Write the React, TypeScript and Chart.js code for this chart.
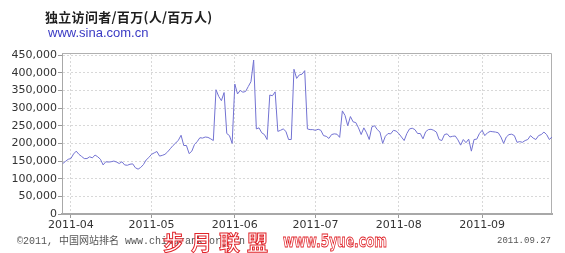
import { useEffect, useRef } from 'react';
import { Chart, registerables } from 'chart.js';

Chart.register(...registerables);

const titleText = '独立访问者/百万(人/百万人)';
const sourceText = 'www.sina.com.cn';
const footerLeftText = '©2011, 中国网站排名 www.chinarank.org.cn';
const footerRightText = '2011.09.27';
const watermarkCn = '步月联盟';
const watermarkUrl = 'www.5yue.com';

const firstDate = '2011-03-29';
const lastDate = '2011-09-27';
const monthTickDates = ['2011-04-01', '2011-05-01', '2011-06-01', '2011-07-01', '2011-08-01', '2011-09-01'];
const monthTickLabels = ['2011-04', '2011-05', '2011-06', '2011-07', '2011-08', '2011-09'];
const yTickValues = [0, 50000, 100000, 150000, 200000, 250000, 300000, 350000, 400000, 450000];

// daily unique visitors, from 2011-03-29
const visitorsMar = [143000, 149000, 155000];
const visitorsApr = [
  157000, 170000, 178000, 169000, 163000, 157000, 157000, 162000, 159000, 167000,
  162000, 155000, 139000, 148000, 147000, 148000, 150000, 147000, 143000, 148000,
  139000, 138000, 141000, 142000, 131000, 127000, 132000, 140000, 153000, 160000,
];
const visitorsMay = [
  169000, 173000, 177000, 164000, 166000, 169000, 176000, 185000, 194000, 201000,
  209000, 223000, 194000, 194000, 171000, 178000, 197000, 205000, 216000, 215000,
  218000, 217000, 213000, 208000, 352000, 333000, 321000, 344000, 228000, 222000,
  200000,
];
const visitorsJun = [
  368000, 340000, 350000, 345000, 347000, 361000, 375000, 436000, 241000, 244000,
  230000, 225000, 211000, 337000, 335000, 346000, 234000, 237000, 241000, 234000,
  211000, 211000, 410000, 384000, 394000, 396000, 406000, 241000, 239000, 239000,
];
const visitorsJul = [
  237000, 240000, 237000, 222000, 220000, 214000, 225000, 227000, 226000, 217000,
  292000, 279000, 250000, 276000, 261000, 259000, 244000, 225000, 244000, 230000,
  211000, 247000, 250000, 239000, 232000, 200000, 220000, 228000, 227000, 237000,
  235000,
];
const visitorsAug = [
  228000, 218000, 208000, 228000, 241000, 243000, 239000, 228000, 228000, 213000,
  233000, 239000, 240000, 237000, 232000, 211000, 208000, 225000, 227000, 218000,
  220000, 221000, 210000, 195000, 211000, 202000, 212000, 178000, 211000, 212000,
  228000,
];
const visitorsSep = [
  237000, 222000, 230000, 234000, 233000, 232000, 230000, 218000, 200000, 218000,
  225000, 226000, 222000, 203000, 205000, 203000, 208000, 211000, 222000, 215000,
  211000, 222000, 225000, 232000, 225000, 211000, 218000,
];

const dayNum = (s: string) => {
  const [y, m, d] = s.split('-').map(Number);
  return Math.round(Date.UTC(y, m - 1, d) / 86400000);
};

export default function App() {
  const ref = useRef<HTMLCanvasElement | null>(null);

  useEffect(() => {
    document.body.style.margin = '0';
    const canvas = ref.current;
    if (!canvas) return;

    const visitors = [
      ...visitorsMar, ...visitorsApr, ...visitorsMay, ...visitorsJun,
      ...visitorsJul, ...visitorsAug, ...visitorsSep,
    ];
    const start = dayNum(firstDate);
    const points = visitors.map((v, i) => ({ x: start + i, y: v }));
    const tickDays = monthTickDates.map(dayNum);

    const framePlugin = {
      id: 'frame',
      beforeDatasetsDraw(chart: any) {
        const { ctx, chartArea: a } = chart;
        ctx.save();
        ctx.strokeStyle = '#b0b0b0';
        ctx.lineWidth = 1;
        ctx.beginPath();
        ctx.moveTo(a.left, a.top + 0.5);
        ctx.lineTo(a.right - 0.5, a.top + 0.5);
        ctx.lineTo(a.right - 0.5, a.bottom);
        ctx.stroke();
        ctx.restore();
      },
    };

    const textPlugin = {
      id: 'texts',
      afterDraw(chart: any) {
        const ctx = chart.ctx as CanvasRenderingContext2D;
        ctx.save();
        ctx.textBaseline = 'middle';
        ctx.textAlign = 'left';
        // title
        ctx.fillStyle = '#1e1e1e';
        ctx.font = 'bold 13px "Noto Sans CJK SC"';
        (ctx as any).letterSpacing = '0.3px';
        ctx.fillText(titleText, 45, 17);
        (ctx as any).letterSpacing = '0px';
        // source
        ctx.fillStyle = '#3a3ac4';
        ctx.font = '13px "Liberation Sans"';
        ctx.fillText(sourceText, 48, 33);
        // footer
        ctx.fillStyle = '#555';
        ctx.font = '10px "Liberation Mono", "Noto Sans CJK SC"';
        ctx.fillText(footerLeftText, 17, 241);
        ctx.textAlign = 'right';
        ctx.font = '9px "Liberation Mono"';
        ctx.fillText(footerRightText, 551, 241);
        // watermark (outlined)
        ctx.textAlign = 'left';
        ctx.lineWidth = 1;
        ctx.strokeStyle = '#e0242a';
        ctx.fillStyle = '#ffffff';
        ctx.font = 'bold 21px "Noto Sans CJK SC"';
        (ctx as any).letterSpacing = '7px';
        ctx.fillText(watermarkCn, 163, 242);
        ctx.strokeText(watermarkCn, 163, 242);
        (ctx as any).letterSpacing = '0px';
        ctx.font = 'bold 18px "DejaVu Sans"';
        ctx.fillText(watermarkUrl, 283, 242, 104);
        ctx.strokeText(watermarkUrl, 283, 242, 104);
        ctx.restore();
      },
    };

    const tickFont = { family: '"DejaVu Sans", Verdana, sans-serif', size: 11 };

    const chart = new Chart(canvas, {
      type: 'line',
      data: {
        datasets: [
          {
            data: points,
            borderColor: '#7272d2',
            borderWidth: 1,
            pointRadius: 0,
            tension: 0,
            fill: false,
          },
        ],
      },
      options: {
        responsive: false,
        animation: false,
        events: [],
        layout: { padding: { top: 53, right: 13, bottom: 19, left: 0 } },
        plugins: { legend: { display: false }, tooltip: { enabled: false } },
        scales: {
          x: {
            type: 'linear',
            min: dayNum(firstDate) - 0.3,
            max: dayNum(lastDate),
            afterBuildTicks: (scale: any) => {
              scale.ticks = tickDays.map((v) => ({ value: v }));
            },
            afterFit: (scale: any) => {
              scale.height = 20;
            },
            ticks: {
              autoSkip: false,
              maxRotation: 0,
              padding: 1,
              color: '#333',
              font: tickFont,
              callback: (v: any) => {
                const i = tickDays.indexOf(Number(v));
                return i >= 0 ? monthTickLabels[i] : '';
              },
            },
            grid: { color: '#d8d8d8', tickLength: 4, tickColor: '#999' },
            border: { color: '#a8a8a8', width: 2, dash: [2, 2] },
          },
          y: {
            min: 0,
            max: 456000,
            afterBuildTicks: (scale: any) => {
              scale.ticks = yTickValues.map((v) => ({ value: v }));
            },
            afterFit: (scale: any) => {
              scale.width = 62;
            },
            ticks: {
              padding: 1,
              color: '#333',
              font: tickFont,
              callback: (v: any) => Number(v).toLocaleString('en-US'),
            },
            grid: { color: '#d8d8d8', tickLength: 4, tickColor: '#999' },
            border: { color: '#a8a8a8', width: 1, dash: [2, 2] },
          },
        },
      },
      plugins: [framePlugin, textPlugin],
    });

    return () => chart.destroy();
  }, []);

  return <canvas ref={ref} width={565} height={253} style={{ display: 'block' }} />;
}
